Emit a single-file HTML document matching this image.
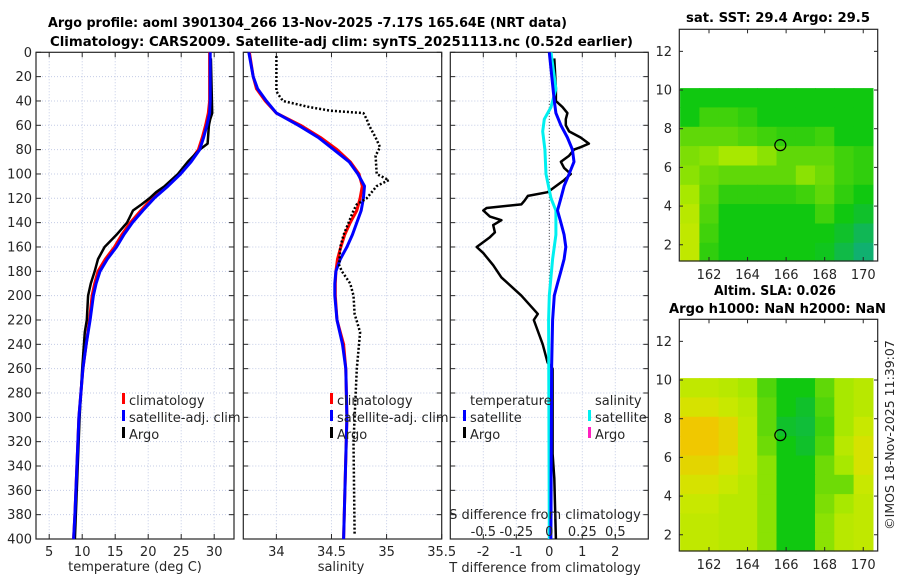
<!DOCTYPE html>
<html><head><meta charset="utf-8"><style>
body{margin:0;background:#fff;}
svg{display:block;font-family:"DejaVu Sans","Liberation Sans",sans-serif;}
text{fill:#262626;}
.t{font-weight:bold;font-size:13px;fill:#000;}
</style></head><body>
<svg id="c" width="900" height="580" viewBox="0 0 900 580">
<text class="t" x="307.5" y="27" text-anchor="middle" textLength="519" lengthAdjust="spacingAndGlyphs">Argo profile: aoml 3901304_266 13-Nov-2025 -7.17S 165.64E (NRT data)</text>
<text class="t" x="341.5" y="46" text-anchor="middle" textLength="583" lengthAdjust="spacingAndGlyphs">Climatology: CARS2009. Satellite-adj clim: synTS_20251113.nc (0.52d earlier)</text>
<text class="t" x="778" y="22" text-anchor="middle" textLength="184" lengthAdjust="spacingAndGlyphs">sat. SST: 29.4 Argo: 29.5</text>
<text class="t" x="775" y="295" text-anchor="middle" textLength="122" lengthAdjust="spacingAndGlyphs">Altim. SLA: 0.026</text>
<text class="t" x="777.5" y="313" text-anchor="middle" textLength="217" lengthAdjust="spacingAndGlyphs">Argo h1000: NaN h2000: NaN</text>
<text x="894" y="435" font-size="12.5" transform="rotate(-90 894 435)" text-anchor="middle">©IMOS 18-Nov-2025 11:39:07</text>
</svg>
<script>
// ---- data ----
const depthTicks=[0,20,40,60,80,100,120,140,160,180,200,220,240,260,280,300,320,340,360,380,400];
const tempTicks=[5,10,15,20,25,30];
const salTicks=[34,34.5,35,35.5];
const tdiffTicks=[-2,-1,0,1,2];
const sdiffTicks=[-0.5,-0.25,0,0.25,0.5];
const sdiffTickLabels=['-0.5','-0.25','0','0.25','0.5'];
const climTempDepth=[0,40,50,60,70,80,90,100,110,120,130,140,150,160,170,180,190,200,220,240,260,280,300,340,380,400];
const climTemp=[29.3,29.3,29.1,28.7,28.2,27.6,26.3,24.7,22.7,20.6,18.9,17.3,16.0,14.9,13.5,12.4,11.9,11.5,11.1,10.6,10.1,9.8,9.5,9.2,8.9,8.7];
const satTemp=[29.4,29.4,29.3,28.9,28.4,27.8,26.5,24.9,23.0,20.9,19.2,17.6,16.3,15.2,13.8,12.7,12.1,11.7,11.2,10.6,10.1,9.8,9.5,9.2,8.9,8.7];
const argoTempDepth=[5,50,55,60,75,80,90,100,110,115,120,125,130,140,150,160,170,180,190,200,220,230,260,300,400];
const argoTemp=[29.5,29.7,29.4,29.2,29.0,27.8,26.0,24.5,22.5,21.2,20.2,19.0,17.7,16.8,15.2,13.4,12.4,11.9,11.3,10.9,10.7,10.4,10.0,9.6,8.9];
const climSalDepth=[0,20,30,40,50,60,70,80,90,100,110,120,130,140,150,160,170,180,190,200,220,240,260,300,400];
const climSal=[33.755,33.79,33.82,33.9,34.0,34.22,34.4,34.55,34.67,34.75,34.78,34.76,34.73,34.67,34.62,34.585,34.555,34.54,34.535,34.535,34.55,34.61,34.63,34.64,34.61];
const satSal=[33.75,33.79,33.83,33.91,34.0,34.2,34.38,34.52,34.66,34.74,34.8,34.79,34.77,34.73,34.69,34.64,34.58,34.54,34.53,34.53,34.55,34.6,34.63,34.64,34.61];
const argoSalDepth=[3,32,35,40,45,48,50,55,60,70,78,85,100,105,110,120,125,130,140,150,160,175,180,190,200,215,230,240,260,300,320,396];
const argoSal=[34.0,34.0,34.02,34.06,34.3,34.49,34.79,34.82,34.84,34.9,34.94,34.9,34.91,35.02,34.91,34.82,34.73,34.7,34.655,34.61,34.58,34.57,34.595,34.67,34.7,34.71,34.76,34.75,34.73,34.71,34.7,34.71];
const diffDepth=[0,40,50,60,70,80,90,100,110,120,130,140,150,160,170,180,190,200,220,260,400];
const satTDiff=[0.0,0.15,0.2,0.35,0.55,0.7,0.75,0.6,0.45,0.35,0.25,0.35,0.45,0.5,0.45,0.35,0.25,0.15,0.1,0.07,0.05];
const sDiffDepth=[0,30,45,55,65,80,100,120,130,150,170,200,220,400];
const satSDiff=[0.013,0.05,0.013,-0.038,-0.05,-0.033,-0.025,0.013,0.05,0.05,0.025,0,-0.005,0];
const argoTDiffDepth=[5,30,40,45,50,55,60,65,70,75,78,80,85,90,95,100,105,110,115,118,122,125,128,130,135,138,142,148,152,160,165,175,185,200,215,220,240,255,260,300,330,350,400];
const argoTDiff=[0.15,0.2,0.2,0.4,0.55,0.5,0.5,0.6,0.95,1.2,0.95,0.75,0.6,0.35,0.45,0.65,0.45,0.2,-0.05,-0.65,-0.75,-0.85,-1.9,-2.0,-1.8,-1.45,-1.7,-1.65,-1.8,-2.2,-2.0,-1.7,-1.45,-0.85,-0.35,-0.47,-0.2,-0.05,0.1,0.1,0.1,0.15,0.2];
const mapLonTicks=[162,164,166,168,170];
const mapLatTicks=[2,4,6,8,10,12];
const mapLons=[160.5,161.5,162.5,163.5,164.5,165.5,166.5,167.5,168.5,169.5];
const mapLats=[10.1,9.1,8.1,7.1,6.1,5.1,4.1,3.1,2.1];
const sstGrid=[
[1,1,1,1,1,1,1,1,1,1],
[1,1.3,1.3,1.2,1,1,1,1,1,1],
[1.5,1.5,1.5,1.4,1.3,1.2,1.2,1.3,1,1],
[1.7,1.8,2,2,1.8,1.5,1.5,1.5,1.3,1.2],
[1.8,1.6,1.5,1.5,1.5,1.5,1.8,1.6,1.3,1.2],
[2,1.5,1.2,1.2,1.2,1.2,1.3,1.5,1.2,1],
[2.2,1.4,1,1,1,1,1,1.3,1,0.8],
[2.3,1.3,1,1,1,1,1,1,0.8,0.5],
[2.3,1.2,1,1,1,1,1,0.9,0.6,0.3]];
const slaGrid=[
[2.3,2.3,2.2,2,1.4,1,1,1.5,2,2.2],
[2.6,2.6,2.4,2.2,1.5,1,0.8,1.4,2,2.2],
[3,3,2.8,2.3,1.5,0.8,0.7,1.3,2,2.4],
[3,3,2.8,2.3,1.6,1,0.8,1.4,2.2,2.6],
[2.8,2.8,2.6,2.3,1.8,1,1,1.6,2,2.6],
[2.6,2.6,2.4,2.2,1.8,1,1,1.6,1.6,2.4],
[2.4,2.4,2.2,2.2,1.8,1,1,1.7,2,2.3],
[2.3,2.3,2.2,2.2,1.8,1,1,1.8,2.2,2.3],
[2.3,2.3,2.2,2.2,1.8,1,1,1.8,2.2,2.3]];
const argoLon=165.7, argoLat=7.15;

// ---- drawing ----
const NS='http://www.w3.org/2000/svg';
const svg=document.getElementById('c');
function el(tag,attrs,parent){const e=document.createElementNS(NS,tag);for(const k in attrs)e.setAttribute(k,attrs[k]);(parent||svg).appendChild(e);return e;}
const Y0=52.3,Y1=539;
const yD=d=>Y0+(d/400)*(Y1-Y0);
function lin(d0,d1,r0,r1){return v=>r0+(v-d0)/(d1-d0)*(r1-r0);}
const xT=lin(3,33,36,234), xS=lin(33.7,35.5,243.3,441.7), xTD=lin(-3,3,450.3,648.3), xSD=lin(-0.75,0.75,450.3,648.3);

function panel(name,x0,x1,xf,ticks,labels,labelY){
  const g=el('g',{});
  
  
  depthTicks.forEach(d=>{if(d>0&&d<400){const l=el('line',{x1:x0,x2:x1,y1:yD(d),y2:yD(d),stroke:'#c4cce6','stroke-width':1,'stroke-dasharray':'1,2'},g);}
    el('line',{x1:x0,x2:x0+5,y1:yD(d),y2:yD(d),stroke:'#262626'},g);el('line',{x1:x1-5,x2:x1,y1:yD(d),y2:yD(d),stroke:'#262626'},g);});
  ticks.forEach((t,i)=>{const x=xf(t);if(x>x0+1&&x<x1-1){const l=el('line',{x1:x,x2:x,y1:Y0,y2:Y1,stroke:'#c4cce6','stroke-width':1,'stroke-dasharray':'1,2'},g);}
    el('line',{x1:x,x2:x,y1:Y1,y2:Y1-5,stroke:'#262626'},g);el('line',{x1:x,x2:x,y1:Y0,y2:Y0+5,stroke:'#262626'},g);
    if(labelY){const tx=el('text',{x:x,y:labelY,'font-size':13,'text-anchor':'middle'},g);tx.textContent=labels?labels[i]:String(t);}});
  const r=el('rect',{x:x0,y:Y0,width:x1-x0,height:Y1-Y0,fill:'none',stroke:'#262626','stroke-width':1.2},g);
  
  return g;
}
function line(g,name,xs,ds,xf,color,w,dash){
  const pts=xs.map((v,i)=>xf(v).toFixed(1)+','+yD(ds[i]).toFixed(1)).join(' ');
  const p=el('polyline',{points:pts,fill:'none',stroke:color,'stroke-width':w,'stroke-linejoin':'round'},g);
  if(dash)p.setAttribute('stroke-dasharray',dash);
  
}
function txt(s,x,y,size,anchor,name){const t=el('text',{x:x,y:y,'font-size':size,'text-anchor':anchor||'start'});t.textContent=s;return t;}
function legend(x,y,items){items.forEach((it,i)=>{const r=el('rect',{x:x,y:y+i*17-12,width:3,height:11,fill:it[1]});txt(it[0],x+7,y+i*17,13,'start','legend-entry-'+it[2]);});}

// panel 1
const g1=panel('temperature-panel',36,234,xT,tempTicks,null,556);
line(g1,'temp-climatology-line',climTemp,climTempDepth,xT,'#ff0000',3);
line(g1,'temp-argo-line',argoTemp,argoTempDepth,xT,'#000',2.5);
line(g1,'temp-satellite-line',satTemp,climTempDepth,xT,'#0000ff',3);
depthTicks.forEach(d=>txt(String(d),32,yD(d)+4.5,13,'end','y-tick-label'));
txt('temperature (deg C)',135,571,13,'middle','x-axis-title-temperature');
legend(122,405,[['climatology','#f00','climatology'],['satellite-adj. clim','#00f','satellite'],['Argo','#000','argo']]);
// panel 2
const g2=panel('salinity-panel',243.3,441.7,xS,salTicks,null,556);
line(g2,'sal-climatology-line',climSal,climSalDepth,xS,'#ff0000',3);
line(g2,'sal-satellite-line',satSal,climSalDepth,xS,'#0000ff',3);
line(g2,'sal-argo-line',argoSal,argoSalDepth,xS,'#000',2.5,'2,2');
txt('salinity',341,571,13,'middle','x-axis-title-salinity');
legend(330,405,[['climatology','#f00','sal-climatology'],['satellite-adj. clim','#00f','sal-satellite'],['Argo','#000','sal-argo']]);
// panel 3
const g3=panel('difference-panel',450.3,648.3,xTD,tdiffTicks,null,556);
sdiffTicks.forEach((t,i)=>txt(sdiffTickLabels[i],xSD(t),536,13,'middle','s-diff-tick-label'));
const zl=el('line',{x1:xTD(0),x2:xTD(0),y1:yD(40),y2:yD(262),stroke:'#555','stroke-dasharray':'1,2'},g3);

line(g3,'t-diff-argo-line',argoTDiff,argoTDiffDepth,xTD,'#000',2.5);
line(g3,'s-diff-satellite-line',satSDiff,sDiffDepth,xSD,'#00f0f0',3);
line(g3,'t-diff-satellite-line',satTDiff,diffDepth,xTD,'#0000ff',3);
txt('S difference from climatology',545,519,13,'middle','s-diff-axis-title');
txt('T difference from climatology',545,572,13,'middle','t-diff-axis-title');
txt('temperature',470,405,13,'start','legend-title-temperature');
txt('salinity',595,405,13,'start','legend-title-salinity');
legend(463,422,[['satellite','#00f','tdiff-satellite'],['Argo','#000','tdiff-argo']]);
legend(588,422,[['satellite','#00f0f0','sdiff-satellite'],['Argo','#ff20c0','sdiff-argo']]);

// maps
const stops=[[0.3,[16,176,112]],[1,[16,200,16]],[1.5,[96,216,8]],[2,[168,232,0]],[2.5,[208,232,0]],[3,[240,200,0]]];
function col(v){if(v<=stops[0][0])return stops[0][1];for(let i=1;i<stops.length;i++){if(v<=stops[i][0]){const a=stops[i-1],b=stops[i],f=(v-a[0])/(b[0]-a[0]);return a[1].map((c,j)=>Math.round(c+(b[1][j]-c)*f));}}return stops[stops.length-1][1];}
function map(name,top,grid){
  const bot=top+231.7, xL=lin(160.46,170.75,679.3,877.7), yL=lin(13.14,1.16,top,bot);
  const g=el('g',{});
  grid.forEach((row,r)=>row.forEach((v,c)=>{
    const lon0=Math.max(mapLons[c],160.46),lon1=Math.min(mapLons[c]+1,170.6);
    const latT=mapLats[r],latB=Math.max(mapLats[r]-1,1.16);
    const c3=col(v);
    const cell=el('rect',{x:xL(lon0).toFixed(1),y:yL(latT).toFixed(1),width:(xL(lon1)-xL(lon0)+0.6).toFixed(1),height:(yL(latB)-yL(latT)+0.6).toFixed(1),fill:'rgb('+c3.join(',')+')'},g);
    
  }));
  const cr=el('circle',{cx:xL(argoLon),cy:yL(argoLat),r:5.5,fill:'none',stroke:'#000','stroke-width':1.2},g);
  
  mapLatTicks.forEach(t=>{el('line',{x1:679.3,x2:683,y1:yL(t),y2:yL(t),stroke:'#262626'},g);el('line',{x1:874,x2:877.7,y1:yL(t),y2:yL(t),stroke:'#262626'},g);txt(String(t),672,yL(t)+4.5,13,'end','map-lat-tick-label');});
  mapLonTicks.forEach(t=>{el('line',{x1:xL(t),x2:xL(t),y1:bot,y2:bot-4,stroke:'#262626'},g);el('line',{x1:xL(t),x2:xL(t),y1:top,y2:top+4,stroke:'#262626'},g);txt(String(t),xL(t),bot+18,13,'middle','map-lon-tick-label');});
  const f=el('rect',{x:679.3,y:top,width:198.4,height:231.7,fill:'none',stroke:'#262626','stroke-width':1.2},g);
  
}
map('sst-map',29.3,sstGrid);
map('sla-map',319.3,slaGrid);
</script>
</body></html>
